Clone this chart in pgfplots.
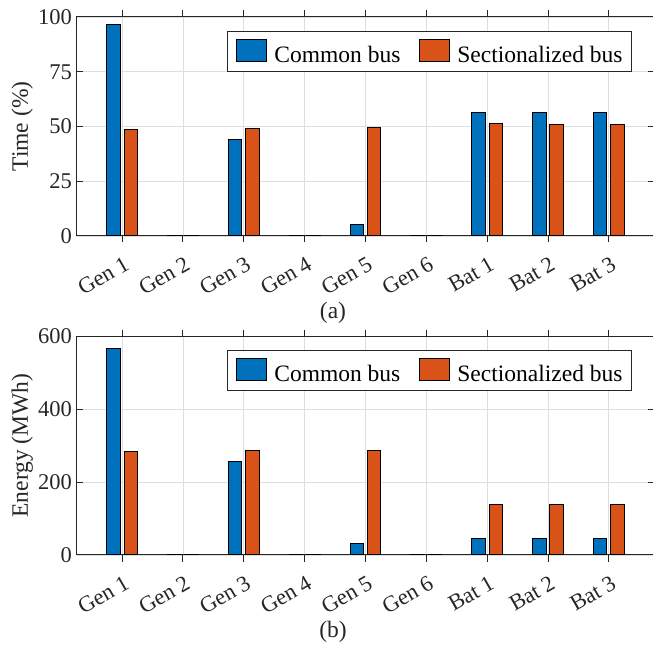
\documentclass[border=0pt]{standalone}
\usepackage{pgfplots}
\pgfplotsset{compat=1.18}
\usepackage{fontspec}
\setmainfont{Liberation Serif}
\definecolor{mblue}{rgb}{0,0.447,0.741}
\definecolor{morange}{rgb}{0.85,0.325,0.098}
\definecolor{axgray}{rgb}{0.15,0.15,0.15}
\pgfplotsset{
 mystyle/.style={
  width=578pt, height=219pt, scale only axis,
  xmin=0.25, xmax=9.75, ymin=0,
  xtick={1,2,3,4,5,6,7,8,9},
  xticklabels={Gen 1,Gen 2,Gen 3,Gen 4,Gen 5,Gen 6,Bat 1,Bat 2,Bat 3},
  x tick label style={rotate=30, anchor=north east, inner sep=0pt, xshift=-5.6pt, yshift=-11.8pt},
  y tick label style={anchor=east, inner sep=0pt, xshift=-4.5pt},
  grid=major, major grid style={color=black!13, line width=0.9pt},
  axis line style={axgray, line width=1pt},
  tick style={axgray, line width=1pt},
  major tick length=6.5pt,
  tick label style={font=\fontsize{22.5}{26}\selectfont, color=axgray},
  label style={font=\fontsize{23.5}{27}\selectfont, color=axgray},
  ylabel style={at={(axis description cs:-0.094,0.5)}, anchor=center, inner sep=0pt},
  /pgf/number format/assume math mode=true,
  ybar, bar width=0.222,
  legend style={at={(0.961,0.934)}, anchor=north east, legend columns=2, draw=axgray, line width=0.9pt,
    font=\fontsize{23.5}{27}\selectfont, inner xsep=9pt, inner ysep=7pt,
    nodes={inner sep=0pt},
    /tikz/every odd column/.append style={column sep=7pt},
    /tikz/every even column/.append style={column sep=19pt}},
  legend image code/.code={\draw[#1, draw=black, line width=1pt] (0pt,-6pt) rectangle (30pt,16pt);},
 }
}
\begin{document}
\begin{tikzpicture}
\useasboundingbox (0pt,0pt) rectangle (653pt,645pt);
\begin{axis}[mystyle, at={(76.5pt,409pt)}, anchor=south west,
  ymax=100, ytick={0,25,50,75,100}, ylabel={Time (\%)}]
\addplot[fill=mblue, draw=black, line width=1pt, bar shift=-0.142] coordinates {(1,96.8) (2,0.3) (3,44) (4,0.2) (5,5.3) (6,0.2) (7,56.6) (8,56.6) (9,56.6)};
\addplot[fill=morange, draw=black, line width=1pt, bar shift=0.142] coordinates {(1,48.7) (2,0.3) (3,49.3) (4,0.3) (5,49.5) (6,0.3) (7,51.5) (8,51) (9,50.8)};
\legend{Common bus, Sectionalized bus}
\end{axis}
\begin{axis}[mystyle, at={(76.5pt,90pt)}, anchor=south west,
  ymax=600, ytick={0,200,400,600}, ylabel={Energy (MWh)}]
\addplot[fill=mblue, draw=black, line width=1pt, bar shift=-0.142] coordinates {(1,565) (2,1.5) (3,257) (4,1) (5,31) (6,1) (7,44) (8,44) (9,44)};
\addplot[fill=morange, draw=black, line width=1pt, bar shift=0.142] coordinates {(1,283.5) (2,2) (3,287) (4,2) (5,287.5) (6,2) (7,137.5) (8,137.5) (9,137.5)};
\legend{Common bus, Sectionalized bus}
\end{axis}
\node[font=\fontsize{23.5}{27}\selectfont, text=axgray] at (333pt,332pt) {(a)};
\node[font=\fontsize{23.5}{27}\selectfont, text=axgray] at (333pt,13pt) {(b)};
\end{tikzpicture}
\end{document}
